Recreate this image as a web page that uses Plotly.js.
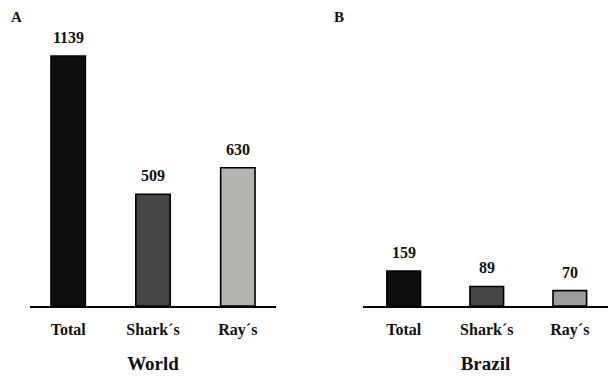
<!DOCTYPE html>
<html>
<head>
<meta charset="utf-8">
<script src="https://cdn.plot.ly/plotly-3.0.1.min.js"></script>
<style>
  html, body { margin: 0; padding: 0; background: #fff; }
  #chart { width: 608px; height: 379px; }
</style>
</head>
<body>
<div id="chart"></div>
<script>
// Number of species: world (panel A) and Brazil (panel B)
const categories = ["Total", "Shark´s", "Ray´s"];
const worldValues = [1139, 509, 630];
const brazilValues = [159, 89, 70];
const worldColors = ["#0e0e0c", "#454543", "#b3b4af"];
const brazilColors = ["#0e0e0c", "#454543", "#9c9c9a"];
const panelTitles = ["World", "Brazil"];
const panelLetters = ["A", "B"];

const serif = '"Liberation Serif", "Times New Roman", serif';
const yMax = 1257;

function barTrace(values, colors, xa, ya) {
  return {
    type: "bar",
    x: categories,
    y: values,
    xaxis: xa,
    yaxis: ya,
    width: 0.405,
    marker: { color: colors, line: { color: "#000", width: 1.6 } },
    hoverinfo: "x+y",
    showlegend: false
  };
}

function valueLabels(values, xref, yref) {
  return values.map((v, i) => ({
    x: categories[i], y: v, xref: xref, yref: yref,
    text: "<b>" + v + "</b>", showarrow: false,
    yanchor: "bottom", yshift: 8,
    font: { family: serif, size: 16, color: "#111" }
  }));
}

function xAxis(domain, range, title) {
  return {
    domain: domain,
    range: range,
    type: "category",
    showline: true, linecolor: "#000", linewidth: 2,
    showgrid: false, zeroline: false,
    ticks: "outside", ticklen: 8, tickcolor: "rgba(0,0,0,0)",
    tickfont: { family: serif, size: 16, color: "#111", weight: "bold" },
    title: { text: "<b>" + title + "</b>", standoff: 18,
             font: { family: serif, size: 19, color: "#111" } },
    fixedrange: true
  };
}

function yAxis(anchor) {
  return {
    domain: [0.1926, 0.9208],
    range: [0, yMax],
    anchor: anchor,
    visible: false,
    fixedrange: true
  };
}

const data = [
  barTrace(worldValues, worldColors, "x", "y"),
  barTrace(brazilValues, brazilColors, "x2", "y2")
];

// Panel letters in the top-left corner of each panel
const letters = panelLetters.map((t, i) => ({
  xref: "paper", yref: "paper",
  x: i === 0 ? 9 / 608 : 332 / 608, y: 1 - 17 / 379,
  xanchor: "left", yanchor: "middle",
  text: "<b>" + t + "</b>", showarrow: false,
  font: { family: serif, size: 15, color: "#111" }
}));

const layout = {
  width: 608, height: 379,
  margin: { l: 0, r: 0, t: 0, b: 0 },
  paper_bgcolor: "#fff", plot_bgcolor: "#fff",
  font: { family: serif },
  bargap: 0,
  xaxis: xAxis([30 / 608, 276 / 608], [-0.45, 2.45], panelTitles[0]),
  yaxis: yAxis("x"),
  xaxis2: Object.assign(xAxis([363 / 608, 1], [-0.49, 2.46], panelTitles[1]), { anchor: "y2" }),
  yaxis2: yAxis("x2"),
  annotations: [
    ...valueLabels(worldValues, "x", "y"),
    ...valueLabels(brazilValues, "x2", "y2"),
    ...letters
  ]
};
layout.xaxis.anchor = "y";

Plotly.newPlot("chart", data, layout, { displayModeBar: false, staticPlot: true });
</script>
</body>
</html>
